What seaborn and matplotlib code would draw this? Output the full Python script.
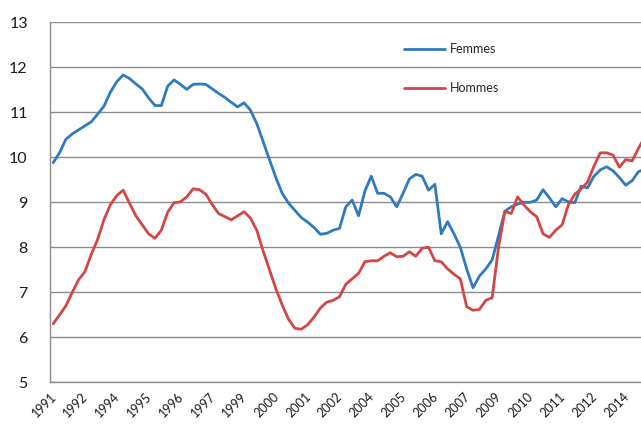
import matplotlib
matplotlib.use("Agg")
import matplotlib.pyplot as plt
import seaborn as sns
import pandas as pd
import numpy as np

# Quarterly series, 1991Q3 .. 2014Q4
femmes = [9.88, 10.10, 10.40, 10.52, 10.61, 10.70, 10.79, 10.96, 11.14, 11.45,
          11.68, 11.83, 11.75, 11.63, 11.52, 11.32, 11.15, 11.15, 11.58, 11.72,
          11.62, 11.51, 11.62, 11.63, 11.62, 11.52, 11.42, 11.33, 11.22, 11.12,
          11.21, 11.05, 10.75, 10.35, 9.95, 9.55, 9.20, 8.98, 8.82, 8.66,
          8.56, 8.44, 8.29, 8.31, 8.38, 8.42, 8.90, 9.05, 8.70, 9.25,
          9.58, 9.20, 9.20, 9.12, 8.90, 9.20, 9.52, 9.62, 9.58, 9.27,
          9.40, 8.30, 8.57, 8.30, 8.00, 7.52, 7.10, 7.36, 7.52, 7.72,
          8.25, 8.80, 8.90, 8.96, 9.00, 9.00, 9.05, 9.28, 9.10, 8.90,
          9.08, 9.01, 8.99, 9.36, 9.32, 9.58, 9.72, 9.79, 9.70, 9.55,
          9.38, 9.48, 9.68, 9.74]
hommes = [6.30, 6.50, 6.70, 7.00, 7.28, 7.46, 7.85, 8.18, 8.62, 8.95,
          9.15, 9.27, 8.98, 8.70, 8.50, 8.30, 8.20, 8.38, 8.78, 8.99,
          9.01, 9.12, 9.30, 9.28, 9.18, 8.95, 8.75, 8.68, 8.61, 8.70,
          8.79, 8.65, 8.38, 7.92, 7.50, 7.08, 6.72, 6.40, 6.20, 6.18,
          6.28, 6.45, 6.65, 6.78, 6.82, 6.90, 7.18, 7.30, 7.42, 7.68,
          7.70, 7.70, 7.80, 7.88, 7.79, 7.80, 7.90, 7.80, 7.98, 8.00,
          7.70, 7.68, 7.52, 7.40, 7.30, 6.68, 6.60, 6.62, 6.82, 6.88,
          8.00, 8.80, 8.75, 9.12, 8.94, 8.79, 8.68, 8.30, 8.22, 8.38,
          8.50, 8.95, 9.18, 9.30, 9.45, 9.80, 10.10, 10.10, 10.05, 9.78,
          9.95, 9.92, 10.20, 10.45]
tick_labels = ["1991", "1992", "1994", "1995", "1996", "1997", "1999", "2000",
               "2001", "2002", "2004", "2005", "2006", "2007", "2009", "2010",
               "2011", "2012", "2014"]
series_names = ["Femmes", "Hommes"]
colors = ["#2E7BBF", "#D64545"]

n = len(femmes)
df = pd.DataFrame({
    "idx": list(range(n)) * 2,
    "val": femmes + hommes,
    "serie": [series_names[0]] * n + [series_names[1]] * n,
})

sns.set_style("white")
plt.rcParams["font.family"] = ["Lato", "DejaVu Sans"]

fig = plt.figure(figsize=(6.41, 4.29), dpi=100)
ax = fig.add_axes([50 / 641, 1 - 382.3 / 429, 598 / 641, 360 / 429])

sns.lineplot(data=df, x="idx", y="val", hue="serie", palette=colors,
             linewidth=2.0, ax=ax, legend=True)

ax.set_xlim(-0.5, n - 0.5)
ax.set_ylim(5, 13)
ax.set_yticks(range(5, 14))
ax.set_yticklabels([str(v) for v in range(5, 14)], fontsize=11.5, color="#1a1a1a")
ax.set_xticks([-0.5 + 5 * k for k in range(len(tick_labels))])
ax.set_xticklabels(tick_labels, rotation=45, ha="right", rotation_mode="anchor",
                   fontsize=9, color="#1a1a1a")
ax.set_xlabel("")
ax.set_ylabel("")

ax.grid(axis="y", color="#8c8c8c", linewidth=1.0)
ax.grid(axis="x", visible=False)
ax.set_axisbelow(True)
for s in ["top", "right"]:
    ax.spines[s].set_visible(False)
for s in ["left", "bottom"]:
    ax.spines[s].set_color("#8c8c8c")
    ax.spines[s].set_linewidth(1.0)
ax.tick_params(axis="both", which="both", direction="out", length=4,
               color="#8c8c8c", width=1.0, pad=3)
ax.tick_params(axis="y", pad=12)
ax.tick_params(axis="x", pad=2)

leg = ax.legend(loc="upper left", bbox_to_anchor=(404 / 641, 1 - 43 / 429),
                bbox_transform=fig.transFigure, frameon=False, fontsize=9,
                labelspacing=2.2, handlelength=3.3, handletextpad=0.4,
                borderpad=0, borderaxespad=0)
for line in leg.get_lines():
    line.set_linewidth(2.0)

fig.savefig("out.png", dpi=100)
